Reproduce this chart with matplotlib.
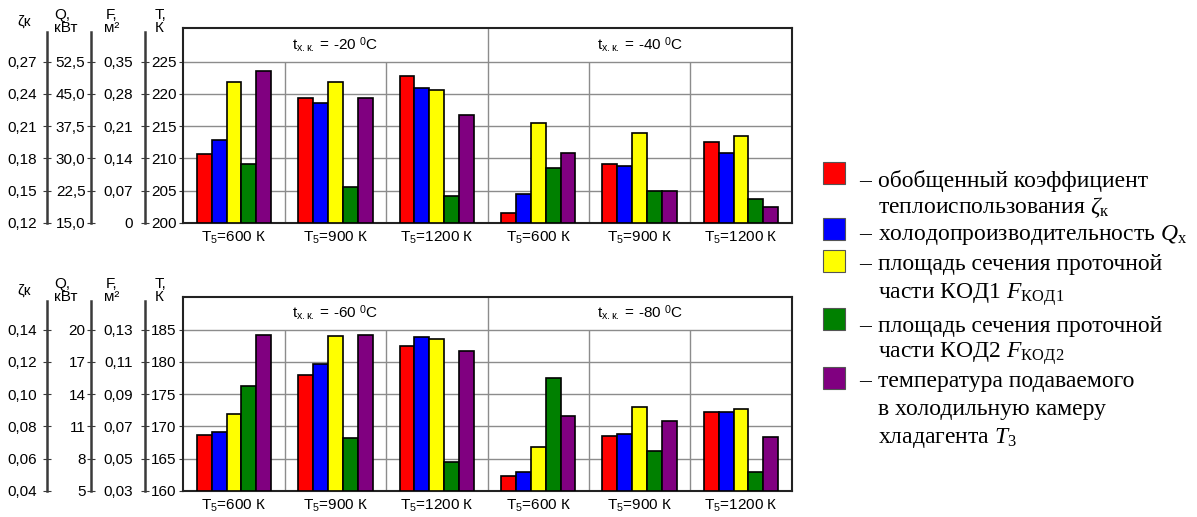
import numpy as np
import matplotlib
matplotlib.use('Agg')
import matplotlib.pyplot as plt
from matplotlib.patches import Rectangle

plt.rcParams['font.family'] = ['Liberation Sans', 'DejaVu Sans']
plt.rcParams['mathtext.fontset'] = 'custom'
plt.rcParams['mathtext.rm'] = 'Liberation Serif'
plt.rcParams['mathtext.it'] = 'Liberation Serif:italic'
plt.rcParams['mathtext.sf'] = 'Liberation Sans'

# groups: T5 for each cold-chamber temperature
t5_labels = ['600', '900', '1200', '600', '900', '1200']
t_cold_top = ['-20', '-40']
t_cold_bot = ['-60', '-80']

# top panel (t = -20, -40 C)
zeta_top = [0.184, 0.236, 0.257, 0.129, 0.175, 0.195]
q_top = [34.3, 42.9, 46.4, 21.8, 28.3, 31.3]
f1_top = [0.306, 0.306, 0.289, 0.217, 0.196, 0.188]
f2_top = [0.127, 0.078, 0.058, 0.118, 0.069, 0.052]
t3_top = [223.5, 219.3, 216.7, 210.9, 205.0, 202.5]

# bottom panel (t = -60, -80 C)
zeta_bot = [0.075, 0.112, 0.130, 0.049, 0.074, 0.089]
q_bot = [10.5, 16.8, 19.3, 6.8, 10.3, 12.3]
f1_bot = [0.078, 0.126, 0.124, 0.057, 0.082, 0.081]
f2_bot = [0.095, 0.063, 0.048, 0.100, 0.055, 0.042]
t3_bot = [184.1, 184.1, 181.7, 171.6, 170.8, 168.3]

# axis scales
t_ticks_top = [200, 205, 210, 215, 220, 225]
zeta_ticks_top = [0.12, 0.15, 0.18, 0.21, 0.24, 0.27]
q_ticks_top = [15.0, 22.5, 30.0, 37.5, 45.0, 52.5]
f_ticks_top = [0, 0.07, 0.14, 0.21, 0.28, 0.35]
zeta_lab_top = ['0,12', '0,15', '0,18', '0,21', '0,24', '0,27']
q_lab_top = ['15,0', '22,5', '30,0', '37,5', '45,0', '52,5']
f_lab_top = ['0', '0,07', '0,14', '0,21', '0,28', '0,35']

t_ticks_bot = [160, 165, 170, 175, 180, 185]
zeta_ticks_bot = [0.04, 0.06, 0.08, 0.10, 0.12, 0.14]
q_ticks_bot = [5, 8, 11, 14, 17, 20]
f_ticks_bot = [0.03, 0.05, 0.07, 0.09, 0.11, 0.13]
zeta_lab_bot = ['0,04', '0,06', '0,08', '0,10', '0,12', '0,14']
q_lab_bot = ['5', '8', '11', '14', '17', '20']
f_lab_bot = ['0,03', '0,05', '0,07', '0,09', '0,11', '0,13']

colors = ['#ff0000', '#0000ff', '#ffff00', '#008000', '#800080']

W, H = 1197, 517
fig = plt.figure(figsize=(W / 100, H / 100), dpi=100)
GRID = '#8c8c8c'
AXC = '#3a3a3a'


def to_t(vals, src, t_ticks):
    vals = np.asarray(vals, dtype=float)
    return t_ticks[0] + (vals - src[0]) * (t_ticks[-1] - t_ticks[0]) / (src[-1] - src[0])


def draw_panel(top_px, bot_px, t_ticks, t_top, scales, series, t_cold):
    left, right = 183.3, 791.7
    rect = [left / W, 1 - bot_px / H, (right - left) / W, (bot_px - top_px) / H]
    ax = fig.add_axes(rect)
    t0 = t_ticks[0]
    ax.set_xlim(-0.5, 5.5)
    ax.set_ylim(t0, t_top)

    # grid
    for t in t_ticks[1:]:
        ax.axhline(t, color=GRID, lw=1, zorder=1)
    ax.vlines([0.5, 1.5, 3.5, 4.5], t0, t_ticks[-1], color=GRID, lw=1, zorder=1)
    ax.axvline(2.5, color=GRID, lw=1, zorder=1)

    bw = 0.147
    x = np.arange(6)
    for k, (vals, src) in enumerate(series):
        h = to_t(vals, src, t_ticks) if src is not None else np.asarray(vals, float)
        ax.bar(x + (k - 2) * bw, h - t0, bottom=t0, width=bw, color=colors[k],
               edgecolor='black', lw=1.2, zorder=3)

    for s in ax.spines.values():
        s.set_linewidth(1.5)
        s.set_color('#222222')
    ax.set_yticks(t_ticks)
    ax.set_yticklabels([str(t) for t in t_ticks])
    ax.tick_params(axis='y', direction='out', length=3, pad=2, labelsize=11, color=AXC)
    ax.set_xticks(x)
    ax.set_xticklabels([r'$\mathsf{T}_{\mathsf{5}}$=' + s + ' К' for s in t5_labels])
    ax.tick_params(axis='x', length=0, pad=5, labelsize=11)

    ymid = (t_ticks[-1] + t_top) / 2
    for i, tc in enumerate(t_cold):
        ax.text(1 + 3 * i, ymid, r'$\mathsf{t}_{\mathsf{х.к.}}$ = ' + tc + r' $^{\mathsf{0}}$C',
                ha='center', va='center', fontsize=11)

    # extra scale columns
    for xline, ticks, labels, pad in scales:
        sax = fig.add_axes([xline / W, rect[1], 0.0001, rect[3]])
        k = (ticks[-1] - ticks[0]) / (t_ticks[-1] - t_ticks[0])
        lo = ticks[0]
        sax.set_ylim(lo, lo + (t_top - t0) * k)
        sax.spines['left'].set_bounds(lo, lo + (t_top - t0 - 0.6) * k)
        sax.spines['left'].set_linewidth(1.8)
        sax.spines['left'].set_color(AXC)
        for s in ['right', 'top', 'bottom']:
            sax.spines[s].set_visible(False)
        sax.patch.set_visible(False)
        sax.set_xticks([])
        sax.set_yticks(ticks)
        sax.set_yticklabels(labels)
        sax.tick_params(axis='y', direction='inout', length=6, pad=pad, labelsize=11, color=AXC)

    # column headers
    dy = top_px - 28.3
    fig.text(24 / W, 1 - (22 + dy) / H, 'ζк', ha='center', va='center', fontsize=11)
    fig.text(54 / W, 1 - (8 + dy) / H, 'Q,\nкВт', ha='left', va='top', fontsize=11, linespacing=0.9)
    fig.text(112 / W, 1 - (8 + dy) / H, 'F,\nм²', ha='center', va='top', fontsize=11,
             linespacing=0.9, multialignment='center')
    fig.text(155 / W, 1 - (8 + dy) / H, 'T,\nК', ha='left', va='top', fontsize=11, linespacing=0.9)
    return ax


draw_panel(28.3, 222.7, t_ticks_top, 230.2,
           [(47, zeta_ticks_top, zeta_lab_top, 4), (91, q_ticks_top, q_lab_top, 1),
            (145, f_ticks_top, f_lab_top, 6)],
           [(zeta_top, zeta_ticks_top), (q_top, q_ticks_top), (f1_top, f_ticks_top),
            (f2_top, f_ticks_top), (t3_top, None)],
           t_cold_top)

draw_panel(297.3, 491.0, t_ticks_bot, 190.0,
           [(47, zeta_ticks_bot, zeta_lab_bot, 4), (91, q_ticks_bot, q_lab_bot, 1),
            (145, f_ticks_bot, f_lab_bot, 6)],
           [(zeta_bot, zeta_ticks_bot), (q_bot, q_ticks_bot), (f1_bot, f_ticks_bot),
            (f2_bot, f_ticks_bot), (t3_bot, None)],
           t_cold_bot)

# legend
legend_items = [
    ['обобщенный коэффициент', r'теплоиспользования $\zeta_\mathrm{к}$'],
    [r'холодопроизводительность $Q_\mathrm{х}$'],
    ['площадь сечения проточной', r'части КОД1 $F_\mathrm{КОД1}$'],
    ['площадь сечения проточной', r'части КОД2 $F_\mathrm{КОД2}$'],
    ['температура подаваемого', 'в холодильную камеру', r'хладагента $T_\mathrm{3}$'],
]
baselines = [[187, 213], [240], [270, 299], [332, 358], [387, 415, 443]]
square_tops = [162, 218, 250, 308, 367]
for k, (lines, bls) in enumerate(zip(legend_items, baselines)):
    y0 = bls[0]
    fig.add_artist(Rectangle((823 / W, 1 - (square_tops[k] + 22) / H), 22 / W, 22 / H,
                             transform=fig.transFigure,
                             facecolor=colors[k], edgecolor='#555555', lw=0.8))
    fig.text(859 / W, 1 - y0 / H, '–', fontsize=17, family='Liberation Serif', va='baseline')
    for line, bl in zip(lines, bls):
        fig.text(878 / W, 1 - bl / H, line, fontsize=17, family='Liberation Serif', va='baseline')

fig.savefig('out.png', dpi=100)
